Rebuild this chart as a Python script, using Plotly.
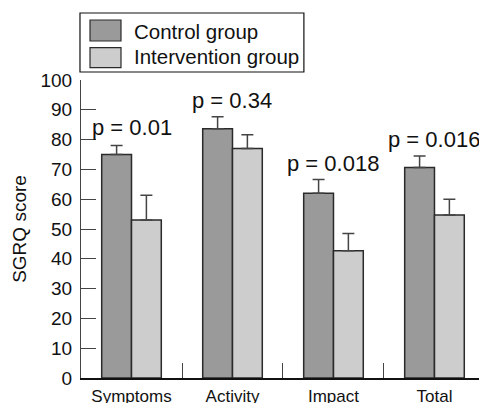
import plotly.graph_objects as go

categories = ["Symptoms", "Activity", "Impact", "Total"]
control_mean = [75, 83.6, 62, 70.6]
control_err = [3, 4.1, 4.6, 3.9]
interv_mean = [53, 77, 42.7, 54.7]
interv_err = [8.3, 4.6, 5.8, 5.3]
p_labels = ["p = 0.01", "p = 0.34", "p = 0.018", "p = 0.016"]
p_label_y = [84, 93, 72, 80]
y_ticks = list(range(0, 101, 10))

FONT = "Liberation Sans, Arial, sans-serif"
C_CTRL = "#9a9a9a"
C_INT = "#cdcdcd"
EDGE = "#2a2a2a"

fig = go.Figure()
fig.add_trace(go.Bar(
    x=categories, y=control_mean, name="Control group",
    marker=dict(color=C_CTRL, line=dict(color=EDGE, width=1.5)),
    error_y=dict(type="data", array=control_err, arrayminus=[0]*4, symmetric=False,
                 color="#444", thickness=1.5, width=6),
    showlegend=False))
fig.add_trace(go.Bar(
    x=categories, y=interv_mean, name="Intervention group",
    marker=dict(color=C_INT, line=dict(color=EDGE, width=1.5)),
    error_y=dict(type="data", array=interv_err, arrayminus=[0]*4, symmetric=False,
                 color="#444", thickness=1.5, width=6),
    showlegend=False))

for c, t, yy in zip(categories, p_labels, p_label_y):
    fig.add_annotation(x=c, y=yy, text=t, showarrow=False, xanchor="center",
                       yanchor="middle", font=dict(size=22, color="#111", family=FONT))

# custom legend
fig.add_shape(type="rect", xref="paper", yref="paper", x0=-0.0025, x1=0.549,
              y0=1.0268, y1=1.2248, line=dict(color="#111", width=1.2), fillcolor="white")
for (yb, yt, ym, col, name) in [(1.1309, 1.2013, 1.1644, C_CTRL, "Control group"),
                                (1.0413, 1.1084, 1.0772, C_INT, "Intervention group")]:
    fig.add_shape(type="rect", xref="paper", yref="paper", x0=0.0222, x1=0.0985,
                  y0=yb, y1=yt, line=dict(color=EDGE, width=1.2), fillcolor=col)
    fig.add_annotation(xref="paper", yref="paper", x=0.1256, y=ym, text=name,
                       showarrow=False, xanchor="left", yanchor="middle",
                       font=dict(size=20.5, color="#111", family=FONT))

fig.update_layout(
    width=479, height=395,
    margin=dict(l=73, r=0, t=72, b=25, autoexpand=False),
    paper_bgcolor="white", plot_bgcolor="white",
    barmode="group", bargap=0.41, bargroupgap=0,
    font=dict(family=FONT, color="#111"),
    xaxis=dict(range=[-0.5, 3.52], showline=True, linecolor="#111", linewidth=1.5,
               ticks="inside", tickson="boundaries", ticklen=15, tickcolor="#444",
               tickwidth=1.2, tickfont=dict(size=17), showgrid=False, zeroline=False,
               ticklabelstandoff=2),
    yaxis=dict(range=[0, 100], tickvals=y_ticks, showline=True, linecolor="#444",
               linewidth=1.2, ticks="inside", ticklen=15, tickcolor="#444", tickwidth=1.2,
               tickfont=dict(size=19), showgrid=False, zeroline=False,
               title=dict(text="SGRQ score", font=dict(size=19), standoff=8),
               ticklabelstandoff=4),
)

fig.write_html("out.html")
